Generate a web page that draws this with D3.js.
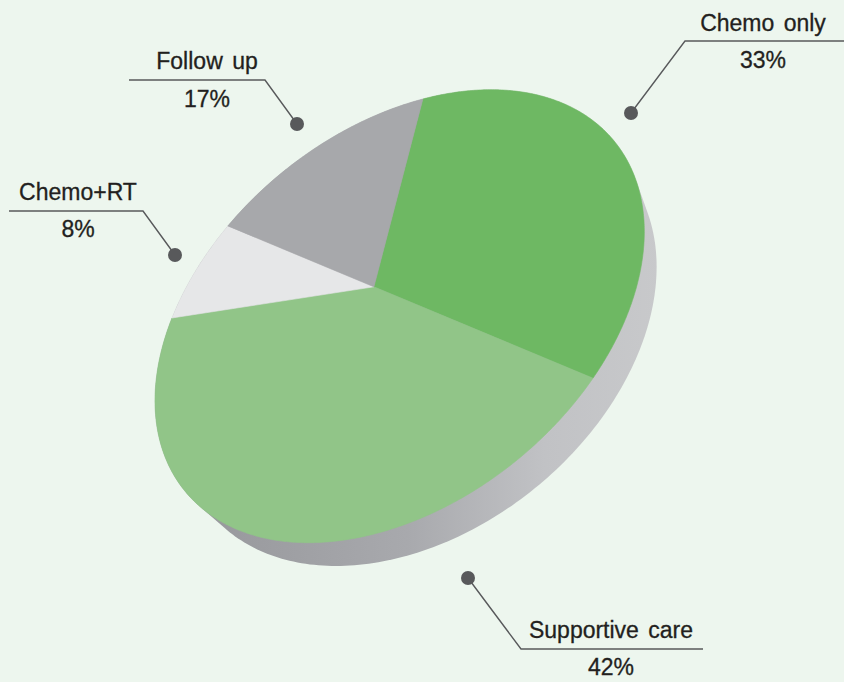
<!DOCTYPE html>
<html><head><meta charset="utf-8">
<script src="https://cdn.jsdelivr.net/npm/d3@7"></script>
<style>
html,body{margin:0;padding:0;background:#edf6ee;}
svg{display:block;}
text{font-family:"Liberation Sans",Arial,Helvetica,sans-serif;fill:#231f20;stroke:#231f20;stroke-width:0.3px;}
</style></head><body>
<svg id="chart" width="844" height="682"></svg>
<script>
// ---- data ----
const categories = ["Chemo only", "Supportive care", "Chemo+RT", "Follow up"];
const values = [33, 42, 8, 17];
const percentLabels = ["33%", "42%", "8%", "17%"];
const sliceColors = ["#6eb863", "#91c588", "#e6e7e8", "#a7a8ab"];

// ---- layout (label anchors in screen space) ----
const labelLayout = [
  {dot:[631,113], elbow:[685,41],  endX:850, cx:763, nameY:31,  pctY:68},
  {dot:[468,578], elbow:[521,649], endX:703, cx:611, nameY:638, pctY:675},
  {dot:[175,255], elbow:[143,211], endX:9,   cx:78,  nameY:200, pctY:237},
  {dot:[297,124], elbow:[265,80],  endX:129, cx:207, nameY:69,  pctY:107}
];

// ---- perspective projection of the unit pie plane onto the screen ----
const H = [[177.2, -113.9, 373.9], [-77.0, 172.6, 286.8], [-0.144, -0.1535, 1]];
const depthEps = 0.031, vanish = [1000, 1200];
function project(u, v, depth) {
  const hx = H[0][0]*u + H[0][1]*v + H[0][2] + depth*depthEps*vanish[0];
  const hy = H[1][0]*u + H[1][1]*v + H[1][2] + depth*depthEps*vanish[1];
  const hw = H[2][0]*u + H[2][1]*v + H[2][2] + depth*depthEps;
  return [hx/hw, hy/hw];
}
const polar = (a, r, depth) => project(r*Math.sin(a), -r*Math.cos(a), depth);

const svg = d3.select("#chart");
const defs = svg.append("defs");
const grad = defs.append("linearGradient").attr("id","sideGrad")
  .attr("gradientUnits","userSpaceOnUse").attr("x1",200).attr("x2",660).attr("y1",0).attr("y2",0);
grad.append("stop").attr("offset",0).attr("stop-color","#97989c");
grad.append("stop").attr("offset",0.45).attr("stop-color","#a8a9ad");
grad.append("stop").attr("offset",0.75).attr("stop-color","#c1c2c5");
grad.append("stop").attr("offset",1).attr("stop-color","#c8c9cb");

// side / depth of the disc
const ring = d3.range(0, 360, 1).map(d => d*Math.PI/180);
const hullPts = d3.polygonHull(ring.map(a => polar(a,1,0)).concat(ring.map(a => polar(a,1,1))));
svg.append("path").attr("d", "M" + hullPts.join("L") + "Z").attr("fill","url(#sideGrad)");

// top face slices
const pie = d3.pie().sort(null).value(d => d)(values);
const apex = project(0,0,0);
svg.append("g").selectAll("path").data(pie).join("path")
  .attr("d", d => {
    const n = Math.max(2, Math.ceil((d.endAngle - d.startAngle)/(Math.PI/360)));
    const pts = d3.range(n+1).map(i => polar(d.startAngle + (d.endAngle-d.startAngle)*i/n, 1, 0));
    return "M" + [apex].concat(pts).join("L") + "Z";
  })
  .attr("fill", (d,i) => sliceColors[i])
  .attr("stroke", (d,i) => sliceColors[i]).attr("stroke-width", 0.6).attr("stroke-linejoin","round");

// labels
const lab = svg.append("g").selectAll("g").data(categories).join("g");
lab.append("path")
  .attr("d", (d,i) => { const L = labelLayout[i]; return `M${L.dot}L${L.elbow}L${L.endX},${L.elbow[1]}`; })
  .attr("fill","none").attr("stroke","#58595b").attr("stroke-width",1.4);
lab.append("circle").attr("cx",(d,i)=>labelLayout[i].dot[0]).attr("cy",(d,i)=>labelLayout[i].dot[1])
  .attr("r",7).attr("fill","#58595b");
lab.append("text").attr("x",(d,i)=>labelLayout[i].cx).attr("y",(d,i)=>labelLayout[i].nameY)
  .attr("text-anchor","middle").attr("font-size",23).attr("word-spacing",3).text(d=>d);
lab.append("text").attr("x",(d,i)=>labelLayout[i].cx).attr("y",(d,i)=>labelLayout[i].pctY)
  .attr("text-anchor","middle").attr("font-size",23).text((d,i)=>percentLabels[i]);
</script>
</body></html>
